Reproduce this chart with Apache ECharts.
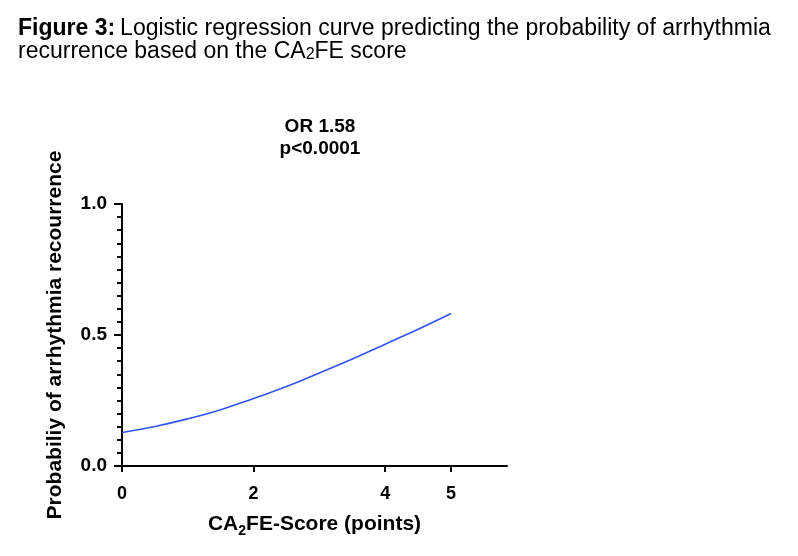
<!DOCTYPE html>
<html>
<head>
<meta charset="utf-8">
<script src="https://cdn.jsdelivr.net/npm/echarts@6/dist/echarts.min.js"></script>
<style>
  html, body { margin: 0; padding: 0; background: #fff; }
  #chart { width: 798px; height: 556px; }
</style>
</head>
<body>
<div id="chart"></div>
<script>
// scores on x, probability
const SCORES = [0, 0.5, 1, 1.5, 2, 2.5, 3, 3.5, 4, 4.5, 5]
const PROB = [0.128, 0.151, 0.180, 0.215, 0.258, 0.303, 0.355, 0.408, 0.465, 0.522, 0.582]
const X_TICKS = [0, 2, 4, 5]

const FONT = '"Liberation Sans", Arial, sans-serif'

let myChart = echarts.init(document.getElementById('chart'))
myChart.setOption({
  animation: false,
  backgroundColor: '#fff',
  title: {
    left: 13,
    top: 12,
    text: '{b|Figure 3:} {n|Logistic regression curve predicting the probability of arrhythmia}\n{n|recurrence based on the CA}{s|2}{n|FE score}',
    textStyle: {
      fontWeight: 'normal',
      rich: {
        b: { fontFamily: FONT, fontSize: 23, fontWeight: 'bold', color: '#000', lineHeight: 23 },
        n: { fontFamily: FONT, fontSize: 23, fontWeight: 'normal', color: '#000', lineHeight: 23 },
        s: { fontFamily: FONT, fontSize: 16, fontWeight: 'normal', color: '#000', lineHeight: 23, verticalAlign: 'bottom' }
      }
    }
  },
  graphic: [{
    type: 'text',
    x: 320,
    y: 116,
    style: {
      text: 'OR 1.58\np<0.0001',
      textAlign: 'center',
      fontFamily: FONT,
      fontSize: 19,
      fontWeight: 'bold',
      lineHeight: 22,
      fill: '#000'
    }
  }],
  grid: {
    left: 122,
    top: 204,
    right: 291,
    bottom: 90
  },
  xAxis: {
    type: 'value',
    min: 0,
    max: 5.85,
    name: '{n|CA}{s|2}{n|FE-Score (points)}',
    nameLocation: 'middle',
    nameGap: 44,
    nameTextStyle: {
      rich: {
        n: { fontFamily: FONT, fontSize: 21, fontWeight: 'bold', color: '#000' },
        s: { fontFamily: FONT, fontSize: 14, fontWeight: 'bold', color: '#000', padding: [14, 0, 0, 0] }
      }
    },
    axisLine: { show: true, lineStyle: { color: '#000', width: 2 } },
    axisTick: { show: true, customValues: X_TICKS, length: 6, lineStyle: { color: '#000', width: 2 } },
    axisLabel: {
      customValues: X_TICKS,
      margin: 19,
      fontFamily: FONT,
      fontSize: 18,
      fontWeight: 'bold',
      color: '#000'
    },
    splitLine: { show: false }
  },
  yAxis: {
    type: 'value',
    min: 0,
    max: 1,
    interval: 0.5,
    name: 'Probabiliy of arrhythmia recourrence',
    nameLocation: 'middle',
    nameGap: 56,
    nameTextStyle: { fontFamily: FONT, fontSize: 21, fontWeight: 'bold', color: '#000' },
    axisLine: { show: true, lineStyle: { color: '#000', width: 2 } },
    axisTick: { show: true, length: 8, lineStyle: { color: '#000', width: 2 } },
    minorTick: { show: true, splitNumber: 10, length: 5, lineStyle: { color: '#000', width: 2 } },
    axisLabel: {
      margin: 15,
      fontFamily: FONT,
      fontSize: 19,
      fontWeight: 'bold',
      color: '#000',
      formatter: v => v.toFixed(1)
    },
    splitLine: { show: false }
  },
  series: [{
    type: 'line',
    data: SCORES.map((s, i) => [s, PROB[i]]),
    smooth: true,
    showSymbol: false,
    lineStyle: { color: '#2f55f5', width: 1.6 }
  }]
})
</script>
</body>
</html>
